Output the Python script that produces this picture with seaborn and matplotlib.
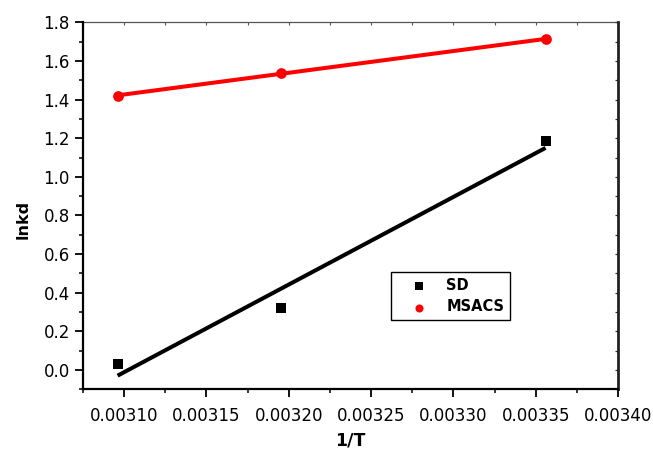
import matplotlib
matplotlib.use("Agg")
import matplotlib.pyplot as plt
from matplotlib.ticker import MultipleLocator, FormatStrFormatter
import seaborn as sns
import numpy as np
import pandas as pd

# Data
inv_T = [0.003096, 0.003195, 0.003356]
sd = [0.031, 0.322, 1.187]
msacs = [1.420, 1.536, 1.713]
x_ticks = [0.00310, 0.00315, 0.00320, 0.00325, 0.00330, 0.00335, 0.00340]
y_ticks = [0.0, 0.2, 0.4, 0.6, 0.8, 1.0, 1.2, 1.4, 1.6, 1.8]

df = pd.DataFrame({"invT": inv_T, "SD": sd, "MSACS": msacs})

sns.set_style("ticks")
plt.rcParams["font.family"] = ["DejaVu Sans"]
plt.rcParams.update({"text.color": "black", "axes.labelcolor": "black",
                     "xtick.color": "black", "ytick.color": "black",
                     "xtick.labelcolor": "black", "ytick.labelcolor": "black"})

fig = plt.figure(figsize=(6.53, 4.51), dpi=100)
ax = fig.add_axes([83 / 653, 1 - 389.3 / 451, (618 - 83) / 653, (389.3 - 22.3) / 451])

sns.regplot(data=df, x="invT", y="SD", ax=ax, ci=None, truncate=True,
            marker="s", color="black", label="SD",
            scatter_kws=dict(s=46, linewidths=0, color="black", alpha=1, zorder=3),
            line_kws=dict(lw=2.9, color="black", solid_capstyle="butt"))
sns.regplot(data=df, x="invT", y="MSACS", ax=ax, ci=None, truncate=True,
            marker="o", color="red", label="MSACS",
            scatter_kws=dict(s=60, linewidths=0, color="#ff0000", alpha=1, zorder=3),
            line_kws=dict(lw=2.9, color="#ff0000", solid_capstyle="butt"))

ax.set_xlim(0.003075, 0.0034)
ax.set_ylim(-0.1, 1.8)
ax.set_xticks(x_ticks)
ax.set_yticks(y_ticks)
ax.xaxis.set_minor_locator(MultipleLocator(0.000025))
ax.yaxis.set_minor_locator(MultipleLocator(0.1))
ax.xaxis.set_major_formatter(FormatStrFormatter("%.5f"))
ax.yaxis.set_major_formatter(FormatStrFormatter("%.1f"))

ax.tick_params(axis="both", which="major", direction="out", length=5.5, width=1.3,
               labelsize=12, colors="black", labelcolor="black")
ax.tick_params(axis="both", which="minor", direction="out", length=3, width=1.1,
               colors="black")
ax.tick_params(axis="x", which="major", pad=7)
ax.tick_params(axis="y", which="major", pad=4)

for s in ["left", "bottom"]:
    ax.spines[s].set_linewidth(1.6)
    ax.spines[s].set_color("black")
ax.spines["top"].set_visible(False)
ax.spines["right"].set_visible(False)

secx = ax.secondary_xaxis("top")
secx.set_xticks(x_ticks)
secx.xaxis.set_minor_locator(MultipleLocator(0.000025))
secx.tick_params(axis="x", which="both", direction="in", length=2.5, width=0.8,
                 labeltop=False, colors="#555555")
secx.spines["top"].set_linewidth(0.9)
secx.spines["top"].set_color("#555555")

secy = ax.secondary_yaxis("right")
secy.yaxis.set_major_locator(MultipleLocator(0.1))
secy.tick_params(axis="y", which="both", direction="in", length=2.5, width=0.9,
                 labelright=False, colors="#333333")
secy.spines["right"].set_linewidth(2.0)
secy.spines["right"].set_color("#222222")

ax.set_xlabel("1/T", fontsize=12.5, fontweight="bold", color="black")
ax.set_ylabel("lnkd", fontsize=11.5, fontweight="bold", color="black")
ax.xaxis.set_label_coords(0.5, -0.115)
ax.yaxis.set_label_coords(-0.097, 0.464)

leg = ax.legend(loc="upper left", bbox_to_anchor=((391 - 83) / 535, (389.3 - 272) / 367),
                frameon=True, fancybox=False, framealpha=1, edgecolor="black",
                prop=dict(weight="bold", size=10.5), markerscale=0.75,
                handlelength=3.0, handletextpad=0.4, borderpad=0.4,
                labelspacing=0.45, borderaxespad=0)
leg.get_frame().set_linewidth(1.0)
for t in leg.get_texts():
    t.set_color("black")

fig.savefig("out.png", dpi=100)
